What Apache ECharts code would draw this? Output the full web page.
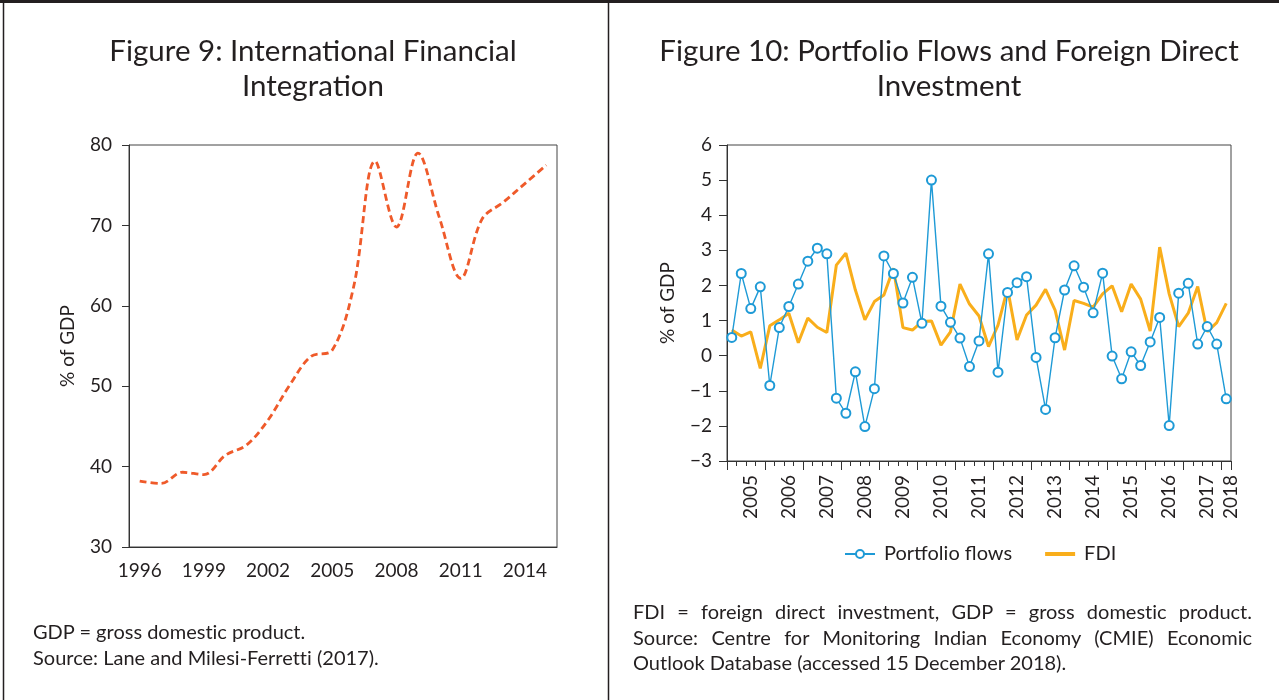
<!DOCTYPE html>
<html>
<head>
<meta charset="utf-8">
<script src="https://cdn.jsdelivr.net/npm/echarts@6/dist/echarts.min.js"></script>
<style>
  html, body { margin: 0; padding: 0; background: #fff; }
  #wrap { position: relative; width: 1279px; height: 700px; overflow: hidden; }
  #chart { position: absolute; left: 0; top: 0; width: 1279px; height: 700px; }
  .note { position: absolute; font-family: Lato, 'Open Sans', sans-serif; font-size: 20px; color: #231F20; line-height: 25.5px; font-variant-ligatures: none; }
  .note .jj { text-align: justify; text-align-last: justify; }
</style>
</head>
<body>
<div id="wrap">
  <div id="chart"></div>
  <div class="note" id="noteL" style="left:33px; top:619px; width:560px;">
    <div>GDP = gross domestic product.</div>
    <div>Source: Lane and Milesi-Ferretti (2017).</div>
  </div>
  <div class="note" id="noteR" style="left:633px; top:599px; width:619px;">
    <div class="jj">FDI = foreign direct investment, GDP = gross domestic product.</div>
    <div class="jj">Source: Centre for Monitoring Indian Economy (CMIE) Economic</div>
    <div>Outlook Database (accessed 15 December 2018).</div>
  </div>
</div>
<script>
// ---------- Figure 9 data ----------
const fig9Years = ['1996','1997','1998','1999','2000','2001','2002','2003','2004','2005',
                   '2006','2007','2008','2009','2010','2011','2012','2013','2014','2015'];
const fig9Values = [38.2, 37.9, 39.3, 39.0, 41.4, 42.7, 45.8, 50.1, 53.7, 54.5,
                    62.4, 78.0, 69.8, 79.0, 71.0, 63.4, 70.8, 72.9, 75.2, 77.5];

// ---------- Figure 10 data (quarterly, 2005 Q1 – 2018 Q1) ----------
const fig10Years = ['2005','2006','2007','2008','2009','2010','2011','2012','2013','2014','2015','2016','2017','2018'];
const portfolioFlows = [
  0.52, 2.34, 1.34, 1.96,   -0.85, 0.80, 1.40, 2.04,   2.69, 3.06, 2.90, -1.21,
  -1.64, -0.46, -2.02, -0.94,  2.84, 2.34, 1.50, 2.23,   0.92, 5.00, 1.41, 0.95,
  0.50, -0.31, 0.42, 2.90,   -0.47, 1.80, 2.08, 2.25,   -0.05, -1.53, 0.51, 1.87,
  2.56, 1.95, 1.22, 2.35,   -0.01, -0.66, 0.11, -0.28,   0.39, 1.09, -1.99, 1.78,
  2.06, 0.33, 0.83, 0.33,   -1.23
];
const fdi = [
  0.73, 0.56, 0.68, -0.36,   0.85, 1.02, 1.21, 0.37,   1.07, 0.81, 0.66, 2.58,
  2.92, 1.87, 1.02, 1.54,   1.73, 2.49, 0.80, 0.73,   0.97, 0.99, 0.30, 0.68,
  2.04, 1.47, 1.13, 0.26,   0.87, 1.92, 0.45, 1.16,   1.44, 1.89, 1.30, 0.16,
  1.57, 1.49, 1.38, 1.76,   1.99, 1.25, 2.04, 1.61,   0.70, 3.09, 1.76, 0.83,
  1.21, 1.97, 0.68, 0.94,   1.49
];
const quarters = [];
fig10Years.forEach(function (y, yi) {
  const nq = (yi === fig10Years.length - 1) ? 1 : 4;
  for (let q = 1; q <= nq; q++) quarters.push(y + ' Q' + q);
});
const nQ = quarters.length;

const TXT = '#231F20';
const FONT = 'Lato';
const chart = echarts.init(document.getElementById('chart'), null, { renderer: 'canvas' });

function minusFmt(v) { return String(v).replace('-', '\u2212'); }

chart.setOption({
  animation: false,
  textStyle: { fontFamily: FONT, color: TXT },
  title: [
    { text: 'Figure 9: International Financial\nIntegration', left: 308, top: 29, textAlign: 'center',
      textStyle: { fontFamily: FONT, fontSize: 29.5, fontWeight: 'normal', color: TXT, lineHeight: 35 } },
    { text: 'Figure 10: Portfolio Flows and Foreign Direct\nInvestment', left: 944, top: 29, textAlign: 'center',
      textStyle: { fontFamily: FONT, fontSize: 29.5, fontWeight: 'normal', color: TXT, lineHeight: 35 } }
  ],
  legend: {
    data: [
      { name: 'Portfolio flows' },
      { name: 'FDI', itemStyle: { opacity: 0 }, lineStyle: { width: 4 } }
    ],
    left: 839, top: 539,
    itemWidth: 30, itemHeight: 10, itemGap: 31,
    textStyle: { fontFamily: FONT, fontSize: 20, color: TXT, padding: [0, 0, 0, 4] }
  },
  grid: [
    { left: 129, top: 145, width: 428, height: 402, show: true, borderColor: '#444', borderWidth: 1, backgroundColor: 'transparent' },
    { left: 727, top: 145, width: 504, height: 316, show: true, borderColor: '#444', borderWidth: 1, backgroundColor: 'transparent' }
  ],
  xAxis: [
    { gridIndex: 0, type: 'category', data: fig9Years, boundaryGap: true, position: 'bottom',
      axisLine: { onZero: false, lineStyle: { color: '#333', width: 1 } },
      axisTick: { show: false },
      axisLabel: { interval: 2, fontSize: 19, color: TXT, margin: 14, fontFamily: FONT } },
    { gridIndex: 1, type: 'category', data: quarters, boundaryGap: true, position: 'bottom',
      axisLine: { onZero: false, lineStyle: { color: '#333', width: 1 } },
      axisTick: { show: true, interval: 0, length: 5, lineStyle: { color: '#333' } },
      axisLabel: { rotate: 90, fontSize: 19, color: TXT, margin: 14, fontFamily: FONT,
        interval: function (i) { return i % 4 === 2 && i < nQ - 1; },
        formatter: function (v) { return v.slice(0, 4); } } },
    { gridIndex: 1, type: 'category', data: quarters, boundaryGap: true, position: 'bottom',
      axisLine: { show: false, onZero: false },
      axisTick: { show: true, length: 9, lineStyle: { color: '#333' },
        interval: function (i) { return i % 4 === 0; } },
      axisLabel: { show: false } },
    // label for the final (single-quarter) year, placed at the axis end
    { gridIndex: 1, type: 'value', min: 0, max: nQ, interval: nQ, position: 'bottom',
      axisLine: { show: false, onZero: false }, axisTick: { show: false }, splitLine: { show: false },
      axisLabel: { rotate: 90, fontSize: 19, color: TXT, margin: 14, fontFamily: FONT,
        showMinLabel: false, showMaxLabel: true,
        formatter: function (v) { return v === nQ ? fig10Years[fig10Years.length - 1] : ''; } } }
  ],
  yAxis: [
    { gridIndex: 0, type: 'value', min: 30, max: 80, interval: 10,
      name: '% of GDP', nameLocation: 'middle', nameRotate: 90, nameGap: 52,
      nameTextStyle: { fontSize: 19, color: TXT, fontFamily: FONT },
      axisLine: { show: true, onZero: false, lineStyle: { color: '#333', width: 1 } },
      axisTick: { show: true, length: 7, lineStyle: { color: '#333' } },
      splitLine: { show: false },
      axisLabel: { fontSize: 19, color: TXT, margin: 17, fontFamily: FONT } },
    { gridIndex: 1, type: 'value', min: -3, max: 6, interval: 1,
      name: '% of GDP', nameLocation: 'middle', nameRotate: 90, nameGap: 50,
      nameTextStyle: { fontSize: 19, color: TXT, fontFamily: FONT },
      axisLine: { show: true, onZero: false, lineStyle: { color: '#333', width: 1 } },
      axisTick: { show: true, length: 8, lineStyle: { color: '#333' } },
      splitLine: { show: false },
      axisLabel: { fontSize: 19, color: TXT, margin: 15, fontFamily: FONT, formatter: minusFmt } }
  ],
  series: [
    { name: 'International financial integration', type: 'line', xAxisIndex: 0, yAxisIndex: 0,
      data: fig9Values, smooth: 0.35, symbol: 'none',
      lineStyle: { color: '#EF5A2A', width: 2.8, type: [7, 4], cap: 'butt' } },
    { name: 'FDI', type: 'line', xAxisIndex: 1, yAxisIndex: 1, data: fdi, symbol: 'none', z: 2,
      itemStyle: { color: '#F9AE1B' },
      lineStyle: { color: '#F9AE1B', width: 3 } },
    { name: 'Portfolio flows', type: 'line', xAxisIndex: 1, yAxisIndex: 1, data: portfolioFlows, z: 3,
      symbol: 'emptyCircle', symbolSize: 9, showSymbol: true, showAllSymbol: true,
      itemStyle: { color: '#1E9AD6', borderWidth: 2 },
      lineStyle: { color: '#1E9AD6', width: 1.4 } }
  ],
  graphic: [
    { type: 'rect', shape: { x: 0, y: 0, width: 1279, height: 3 }, style: { fill: '#231F20' } },
    { type: 'line', shape: { x1: 3.5, y1: 0, x2: 3.5, y2: 700 }, style: { stroke: '#231F20', lineWidth: 1.5 } },
    { type: 'line', shape: { x1: 608.5, y1: 0, x2: 608.5, y2: 700 }, style: { stroke: '#231F20', lineWidth: 1.5 } }
  ]
});
</script>
</body>
</html>
